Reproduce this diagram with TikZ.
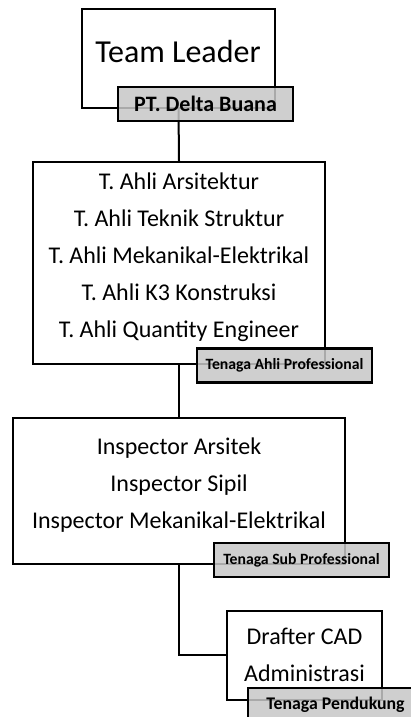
\documentclass[tikz,border=0pt]{standalone}
\usepackage{fontspec}
\setmainfont{Carlito}
\usetikzlibrary{positioning}

\begin{document}
\begin{tikzpicture}[
        x=1pt, y=1pt,
        kotak/.style={draw, line width=2.2pt, fill=white, minimum width=#1},
        isi/.style={align=center, font=\fontsize{24}{37}\selectfont},
        ket/.style={draw, line width=2.2pt, fill=black!22, fill opacity=0.85, text opacity=1, minimum width=175pt, minimum height=34pt, inner sep=0pt, font=\bfseries\fontsize{15.7}{18}\selectfont},
        garis/.style={line width=2pt}
    ]
        \useasboundingbox (0,0) rectangle (411,717);

        % kotak-kotak
        \node[kotak=193pt, minimum height=99pt] (tl) at (178.5,658.5) {};
        \node[kotak=292pt, minimum height=202pt] (ahli) at (179,454) {};
        \node[kotak=332pt, minimum height=146pt] (sub) at (179,226) {};
        \node[kotak=155pt, minimum height=89pt] (dukung) at (304.5,61.5) {};

        % garis penghubung
        \draw[garis] (tl.south) -- (ahli.north);
        \draw[garis] (ahli.south) -- (sub.north);
        \draw[garis] (sub.south) |- (dukung.west);

        % isi
        \node[isi, font=\fontsize{32}{38}\selectfont] (tlisi) at (178,665) {Team Leader};
        \node[isi] (ahliisi) at (179,460) {T. Ahli Arsitektur\\T. Ahli Teknik Struktur\\T. Ahli Mekanikal-Elektrikal\\T. Ahli K3 Konstruksi\\T. Ahli Quantity Engineer};
        \node[isi] (subisi) at (179,232) {Inspector Arsitek\\Inspector Sipil\\Inspector Mekanikal-Elektrikal};
        \node[isi] (dukungisi) at (304.5,62.5) {Drafter CAD\\Administrasi};

        % keterangan
        \node[ket, font=\bfseries\fontsize{22}{24}\selectfont] (ptdb) at (205.5,613) {PT. Delta Buana};
        \node[ket] (ketahli) at (284.5,351.5) {Tenaga Ahli Professional};
        \node[ket] (ketsub) at (301.5,157) {Tenaga Sub Professional};
        \node[ket, font=\bfseries\fontsize{17.8}{20}\selectfont] (ketdukung) at (335.5,12) {Tenaga Pendukung};
    \end{tikzpicture}
\end{document}
